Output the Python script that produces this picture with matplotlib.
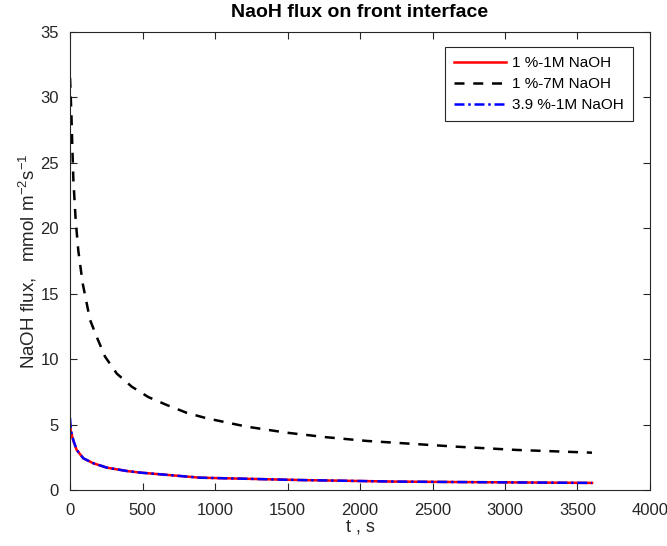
import matplotlib
matplotlib.use("Agg")
import matplotlib.pyplot as plt

plt.rcParams['font.family'] = ['Liberation Sans', 'DejaVu Sans']
plt.rcParams['mathtext.default'] = 'regular'

# flux at front interface, mmol m^-2 s^-1
t_7m = [0, 5, 10, 15, 23, 39, 57, 87, 138, 184, 241, 322, 425, 540, 666, 804,
        942, 1218, 1493, 1769, 2045, 2228, 2665, 3079, 3526, 3600]
flux_7m = [31.5, 30.0, 28.5, 26.5, 23.7, 20.6, 18.3, 15.8, 13.0, 11.7, 10.2, 8.9,
           7.9, 7.1, 6.5, 5.9, 5.48, 4.84, 4.38, 4.03, 3.75, 3.62, 3.31, 3.06,
           2.88, 2.85]

t_1m = [0, 5, 23, 46, 92, 161, 253, 391, 482, 896, 1585, 2251, 2894, 3600]
flux_1pct_1m = [5.0, 4.5, 3.75, 3.05, 2.42, 2.04, 1.71, 1.45, 1.33, 0.94, 0.76,
                0.64, 0.59, 0.54]
flux_39pct_1m = [5.5, 4.6, 3.8, 3.06, 2.42, 2.04, 1.71, 1.45, 1.33, 0.94, 0.76,
                 0.64, 0.59, 0.54]

labels = ['1 %-1M NaOH', '1 %-7M NaOH', '3.9 %-1M NaOH']

fig = plt.figure(figsize=(6.67, 5.46), dpi=100)
ax = fig.add_axes([0.105, 0.1026, 0.8695, 0.8388])

ax.plot(t_1m, flux_1pct_1m, color='red', lw=1.8, label=labels[0])
ax.plot(t_7m, flux_7m, color='black', lw=1.8, dashes=(4, 3.5), label=labels[1])
ax.plot(t_1m, flux_39pct_1m, color='blue', lw=1.8, dashes=(4, 1.5, 1, 1.5),
        label=labels[2])

ax.set_xlim(0, 4000)
ax.set_ylim(0, 35)
ax.set_xticks(range(0, 4001, 500))
ax.set_yticks(range(0, 36, 5))
ax.tick_params(direction='in', top=True, right=True, length=5, width=0.8,
               labelsize=12, colors='#262626')
ax.tick_params(axis='x', pad=9.5)
ax.tick_params(axis='y', pad=8)
for s in ax.spines.values():
    s.set_linewidth(0.8)
    s.set_color('#262626')

ax.set_title('NaoH flux on front interface', fontsize=14, fontweight='bold', pad=10.5)
ax.set_xlabel('t , s', fontsize=13, color='#262626', labelpad=0.5)
ax.set_ylabel('NaOH flux,   mmol m$^{-2}$s$^{-1}$', fontsize=13.5, color='#262626',
              labelpad=1)

leg = ax.legend(loc='upper right', bbox_to_anchor=(0.971, 0.967), borderaxespad=0,
                fontsize=11, handlelength=3.4, fancybox=False, edgecolor='#262626',
                framealpha=1, borderpad=0.6, labelspacing=0.45, handletextpad=0.4)
leg.get_frame().set_linewidth(0.8)

fig.savefig('out.png', dpi=100)
